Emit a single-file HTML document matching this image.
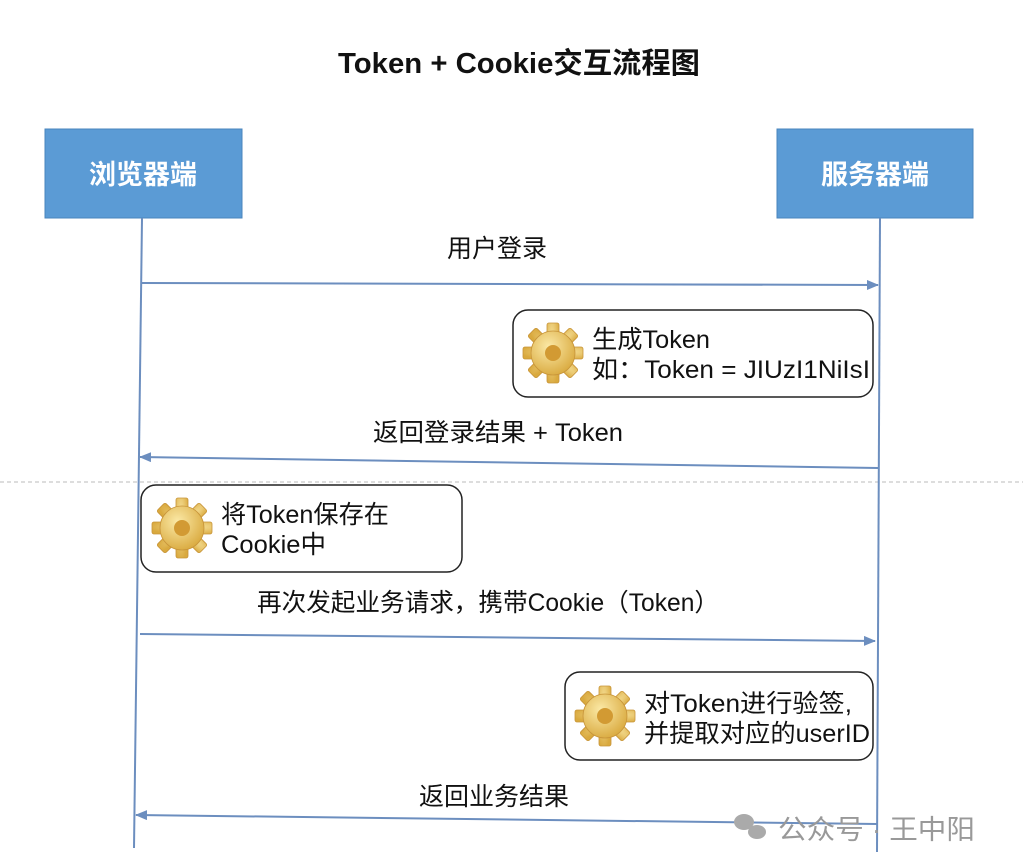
<!DOCTYPE html>
<html><head><meta charset="utf-8"><style>
body{margin:0;background:#fff;}
svg text{font-family:"Liberation Sans","Noto Sans CJK SC",sans-serif;}
</style></head><body>
<svg width="1023" height="861" viewBox="0 0 1023 861" xmlns="http://www.w3.org/2000/svg">
<defs>
<marker id="ah" markerWidth="12" markerHeight="10" refX="11" refY="5" orient="auto" markerUnits="userSpaceOnUse">
<path d="M0,0 L12,5 L0,10 Z" fill="#6c8ebf"/></marker>
<radialGradient id="gg" cx="40%" cy="35%" r="70%"><stop offset="0" stop-color="#fbe9a6"/><stop offset="1" stop-color="#d9a93e"/></radialGradient>
<g id="gear">
<g fill="url(#gg)" stroke="#c8953a" stroke-width="0.8">
<rect x="-6" y="-30" width="12" height="60" rx="2"/>
<rect x="-6" y="-30" width="12" height="60" rx="2" transform="rotate(45)"/>
<rect x="-6" y="-30" width="12" height="60" rx="2" transform="rotate(90)"/>
<rect x="-6" y="-30" width="12" height="60" rx="2" transform="rotate(135)"/>
<circle r="22"/>
</g>
<circle r="8" fill="#d29a33"/>
</g>
</defs>
<text x="519" y="73" text-anchor="middle" font-size="29" font-weight="bold" fill="#111" textLength="362" lengthAdjust="spacingAndGlyphs">Token + Cookie交互流程图</text>
<line x1="0" y1="482" x2="1023" y2="482" stroke="#bbb" stroke-width="1" stroke-dasharray="4,3"/>
<rect x="45" y="129" width="197" height="89" fill="#5b9bd5" stroke="#4a85bd"/>
<text x="143" y="184" text-anchor="middle" font-size="27" font-weight="bold" fill="#fff">浏览器端</text>
<rect x="777" y="129" width="196" height="89" fill="#5b9bd5" stroke="#4a85bd"/>
<text x="875" y="184" text-anchor="middle" font-size="27" font-weight="bold" fill="#fff">服务器端</text>
<line x1="142" y1="218" x2="134" y2="848" stroke="#6c8ebf" stroke-width="2"/>
<line x1="880" y1="218" x2="877" y2="852" stroke="#6c8ebf" stroke-width="2"/>
<g stroke="#6c8ebf" stroke-width="2" fill="none">
<line x1="142" y1="283" x2="878" y2="285" marker-end="url(#ah)"/>
<line x1="878" y1="468" x2="140" y2="457" marker-end="url(#ah)"/>
<line x1="140" y1="634" x2="875" y2="641" marker-end="url(#ah)"/>
<line x1="877" y1="824" x2="136" y2="815" marker-end="url(#ah)"/>
</g>
<g font-size="25" fill="#111">
<text x="497" y="257" text-anchor="middle">用户登录</text>
<text x="498" y="441" text-anchor="middle" textLength="250" lengthAdjust="spacingAndGlyphs">返回登录结果 + Token</text>
<text x="488" y="611" text-anchor="middle" textLength="462" lengthAdjust="spacingAndGlyphs">再次发起业务请求，携带Cookie（Token）</text>
<text x="494" y="805" text-anchor="middle">返回业务结果</text>
</g>
<rect x="513" y="310" width="360" height="87" rx="15" fill="#fff" stroke="#222" stroke-width="1.5"/>
<use href="#gear" transform="translate(553,353)"/>
<g font-size="25" fill="#111">
<text x="592" y="348" textLength="118" lengthAdjust="spacingAndGlyphs">生成Token</text>
<text x="592" y="378" textLength="278" lengthAdjust="spacingAndGlyphs">如：Token = JIUzI1NiIsI</text>
</g>
<rect x="141" y="485" width="321" height="87" rx="15" fill="#fff" stroke="#222" stroke-width="1.5"/>
<use href="#gear" transform="translate(182,528)"/>
<g font-size="25" fill="#111">
<text x="221" y="523" textLength="168" lengthAdjust="spacingAndGlyphs">将Token保存在</text>
<text x="221" y="553" textLength="105" lengthAdjust="spacingAndGlyphs">Cookie中</text>
</g>
<rect x="565" y="672" width="308" height="88" rx="15" fill="#fff" stroke="#222" stroke-width="1.5"/>
<use href="#gear" transform="translate(605,716)"/>
<g font-size="25" fill="#111">
<text x="644" y="712" textLength="208" lengthAdjust="spacingAndGlyphs">对Token进行验签,</text>
<text x="644" y="742" textLength="226" lengthAdjust="spacingAndGlyphs">并提取对应的userID</text>
</g>
<g fill="#aaa"><ellipse cx="744" cy="822" rx="10" ry="8"/><ellipse cx="757" cy="832" rx="9" ry="7"/></g>
<text x="778" y="839" font-size="27" fill="#999" textLength="197" lengthAdjust="spacingAndGlyphs">公众号 · 王中阳</text>
</svg>
</body></html>
